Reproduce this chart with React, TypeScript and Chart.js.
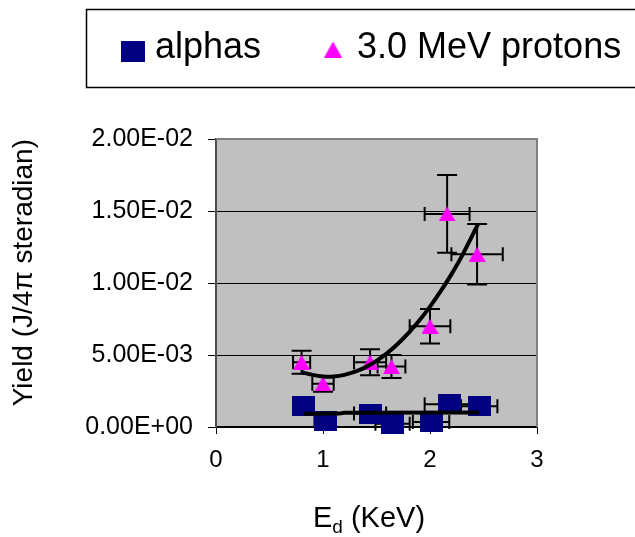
import { useEffect, useRef } from 'react';
import { Chart, registerables } from 'chart.js';

Chart.register(...registerables);

// Measured yields per deuteron energy
const alphaEnergy = [0.82, 1.02, 1.44, 1.65, 2.01, 2.18, 2.46];
const alphaYield = [0.00144, 0.0004, 0.00093, 0.00023, 0.00035, 0.00158, 0.00144];
const alphaEnergyErr = [0.08, 0.1, 0.15, 0.16, 0.17, 0.23, 0.17];
const alphaYieldErr = [0.0003, 0.0003, 0.0003, 0.0003, 0.0003, 0.0003, 0.0003];

const protonEnergy = [0.8, 1.0, 1.44, 1.64, 2.0, 2.16, 2.44];
const protonYield = [0.0045, 0.003, 0.0045, 0.0042, 0.007, 0.0148, 0.012];
const protonEnergyErr = [0.08, 0.1, 0.15, 0.13, 0.19, 0.21, 0.24];
const protonYieldErr = [0.0008, 0.00055, 0.0009, 0.0008, 0.0012, 0.0027, 0.0021];

// Trend lines through each series
const alphaTrendE = [0.82, 1.15, 1.2, 2.46];
const alphaTrendY = [0.00092, 0.00093, 0.00099, 0.00101];
const protonTrendE = [0.8, 0.9, 1.0, 1.1, 1.2, 1.3, 1.4, 1.5, 1.6, 1.7, 1.8, 1.9, 2.0, 2.1, 2.2, 2.3, 2.45];
const protonTrendY = [0.0038, 0.00362, 0.00351, 0.00351, 0.00362, 0.00384, 0.00416, 0.00459, 0.00513, 0.00578, 0.00653, 0.00739, 0.00836, 0.00943, 0.0106, 0.0119, 0.0141];

const xTickLabels = ['0', '1', '2', '3'];
const yTickLabels = ['0.00E+00', '5.00E-03', '1.00E-02', '1.50E-02', '2.00E-02'];

const seriesNames = ['alphas', '3.0 MeV protons'];
const FONT = '"Liberation Sans", Arial, Helvetica, sans-serif';

function squareMarker(w: number, h: number, color: string) {
  const c = document.createElement('canvas');
  c.width = w;
  c.height = h;
  const g = c.getContext('2d')!;
  g.fillStyle = color;
  g.fillRect(0, 0, w, h);
  return c;
}

function triangleMarker(w: number, h: number, color: string) {
  const c = document.createElement('canvas');
  c.width = w;
  c.height = h;
  const g = c.getContext('2d')!;
  g.fillStyle = color;
  g.beginPath();
  g.moveTo(w / 2, 0);
  g.lineTo(w, h);
  g.lineTo(0, h);
  g.closePath();
  g.fill();
  return c;
}

const pts = (xs: number[], ys: number[]) => xs.map((x, i) => ({ x, y: ys[i] }));

export default function App() {
  const ref = useRef<HTMLCanvasElement | null>(null);

  useEffect(() => {
    if (!ref.current) return;
    const square = squareMarker(23, 20, '#000080');
    const triangle = triangleMarker(17, 15, '#FF00FF');

    const errorSets = [
      { xs: alphaEnergy, ys: alphaYield, ex: alphaEnergyErr, ey: alphaYieldErr },
      { xs: protonEnergy, ys: protonYield, ex: protonEnergyErr, ey: protonYieldErr },
    ];

    const plotFrame = {
      id: 'plotFrame',
      beforeDraw(chart: any) {
        const { ctx, chartArea: a } = chart;
        ctx.save();
        ctx.fillStyle = '#C0C0C0';
        ctx.fillRect(a.left, a.top, a.right - a.left, a.bottom - a.top);
        ctx.restore();
      },
      beforeDatasetsDraw(chart: any) {
        const { ctx, chartArea: a, scales } = chart;
        ctx.save();
        ctx.strokeStyle = '#808080';
        ctx.lineWidth = 2;
        ctx.beginPath();
        ctx.moveTo(a.left, a.top);
        ctx.lineTo(a.right, a.top);
        ctx.lineTo(a.right, a.bottom);
        ctx.stroke();

        // error bars with caps
        ctx.strokeStyle = '#000';
        ctx.lineWidth = 2;
        const capV = 10;
        const capH = 7;
        for (const s of errorSets) {
          s.xs.forEach((xv, i) => {
            const yv = s.ys[i];
            const px = scales.x.getPixelForValue(xv);
            const py = scales.y.getPixelForValue(yv);
            const y1 = scales.y.getPixelForValue(yv + s.ey[i]);
            const y0 = scales.y.getPixelForValue(yv - s.ey[i]);
            const x0 = scales.x.getPixelForValue(xv - s.ex[i]);
            const x1 = scales.x.getPixelForValue(xv + s.ex[i]);
            ctx.beginPath();
            ctx.moveTo(px, y1);
            ctx.lineTo(px, y0);
            ctx.moveTo(px - capV, y1);
            ctx.lineTo(px + capV, y1);
            ctx.moveTo(px - capV, y0);
            ctx.lineTo(px + capV, y0);
            ctx.moveTo(x0, py);
            ctx.lineTo(x1, py);
            ctx.moveTo(x0, py - capH);
            ctx.lineTo(x0, py + capH);
            ctx.moveTo(x1, py - capH);
            ctx.lineTo(x1, py + capH);
            ctx.stroke();
          });
        }
        ctx.restore();
      },
      afterDraw(chart: any) {
        const { ctx } = chart;
        ctx.save();
        // legend box
        ctx.strokeStyle = '#000';
        ctx.lineWidth = 1.5;
        ctx.strokeRect(86.5, 9.5, 600, 78);
        ctx.fillStyle = '#000';
        ctx.font = `36px ${FONT}`;
        ctx.textBaseline = 'alphabetic';
        ctx.textAlign = 'left';
        ctx.drawImage(square, 133 - 12, 51 - 10, 24, 21);
        ctx.fillText(seriesNames[0], 155, 58);
        ctx.drawImage(triangle, 333 - 9, 49.5 - 8, 18, 16);
        ctx.fillText(seriesNames[1], 357, 58);

        // x axis title with subscript
        const base = 527;
        const big = `29px ${FONT}`;
        const small = `19px ${FONT}`;
        ctx.font = big;
        const wE = ctx.measureText('E').width;
        const wRest = ctx.measureText(' (KeV)').width;
        ctx.font = small;
        const wd = ctx.measureText('d').width;
        const total = wE + wd + wRest;
        let x = 369 - total / 2;
        ctx.font = big;
        ctx.fillText('E', x, base);
        x += wE;
        ctx.font = small;
        ctx.fillText('d', x, base + 6);
        x += wd;
        ctx.font = big;
        ctx.fillText(' (KeV)', x, base);
        ctx.restore();
      },
    };

    const chart = new Chart(ref.current, {
      type: 'scatter',
      data: {
        datasets: [
          {
            label: 'alphas trend',
            data: pts(alphaTrendE, alphaTrendY),
            showLine: true,
            borderColor: '#000',
            borderWidth: 4,
            pointRadius: 0,
            fill: false,
          },
          {
            label: 'protons trend',
            data: pts(protonTrendE, protonTrendY),
            showLine: true,
            borderColor: '#000',
            borderWidth: 4,
            pointRadius: 0,
            tension: 0.3,
            fill: false,
          },
          {
            label: seriesNames[1],
            data: pts(protonEnergy, protonYield),
            pointStyle: triangle,
            pointRadius: 9,
            clip: false,
          },
          {
            label: seriesNames[0],
            data: pts(alphaEnergy, alphaYield),
            pointStyle: square,
            pointRadius: 12,
            clip: false,
          },
        ] as any,
      },
      options: {
        animation: false,
        responsive: false,
        devicePixelRatio: 1,
        layout: { padding: { top: 139, right: 98, left: 0, bottom: 0 } },
        plugins: {
          legend: { display: false },
          tooltip: { enabled: false },
        },
        scales: {
          x: {
            type: 'linear',
            min: 0,
            max: 3,
            ticks: {
              stepSize: 1,
              padding: 12,
              color: '#000',
              font: { size: 24, family: FONT },
              callback: (_v: any, i: number) => xTickLabels[i],
            },
            grid: {
              drawOnChartArea: false,
              drawTicks: true,
              tickLength: 7,
              color: '#000',
              lineWidth: 1,
            },
            border: { color: '#000', width: 1.5 },
            afterFit: (s: any) => {
              s.height = 110;
            },
          },
          y: {
            type: 'linear',
            min: 0,
            max: 0.02,
            ticks: {
              stepSize: 0.005,
              padding: 15,
              color: '#000',
              font: { size: 25, family: FONT },
              callback: (_v: any, i: number) => yTickLabels[i],
            },
            grid: {
              color: '#000',
              lineWidth: 1,
              drawTicks: true,
              tickLength: 8,
            },
            border: { color: '#505050', width: 2 },
            title: {
              display: true,
              text: 'Yield (J/4π steradian)',
              align: 'end',
              color: '#000',
              font: { size: 28, family: FONT },
              padding: { top: 7, bottom: 0 },
            },
            afterFit: (s: any) => {
              s.width = 216;
            },
          },
        },
      } as any,
      plugins: [plotFrame],
    });
    return () => chart.destroy();
  }, []);

  return (
    <div style={{ position: 'fixed', left: 0, top: 0, width: 635, height: 537, background: '#fff' }}>
      <canvas ref={ref} width={635} height={537} style={{ display: 'block' }} />
    </div>
  );
}
